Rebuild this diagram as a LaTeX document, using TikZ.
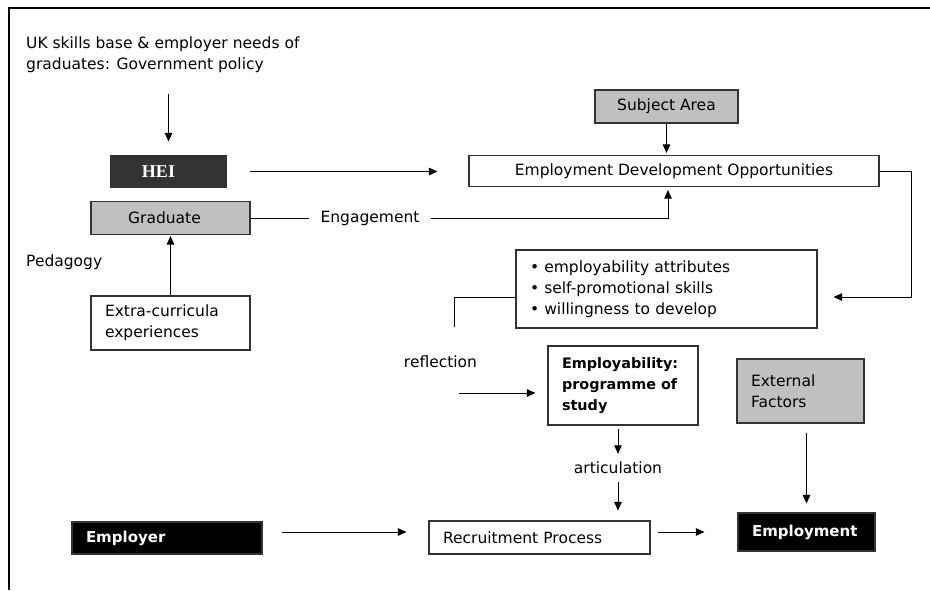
\documentclass[tikz,border=0pt]{standalone}
\usepackage{fontspec}
\setmainfont{DejaVu Sans}
\newfontfamily\heifont{Liberation Serif}
\usetikzlibrary{arrows.meta}
\definecolor{boxgray}{RGB}{192,192,192}
\definecolor{heigray}{RGB}{51,51,51}
\begin{document}
\begin{tikzpicture}[x=1pt,y=-1pt,
  font=\fontsize{15.5}{21}\selectfont,
  boldtext/.style={font=\fontsize{14.4}{21}\selectfont\bfseries},
  box/.style={draw=black!80, line width=1.1pt, inner sep=0pt},
  graybox/.style={box, fill=boxgray},
  blackbox/.style={box, fill=black, text=white, font=\fontsize{15}{21}\selectfont\bfseries},
  lbox/.style={align=left, inner xsep=14pt},
  lbl/.style={inner sep=0pt},
  arr/.style={-{Triangle[length=8.5pt,width=7.5pt]}, line width=0.9pt},
  ln/.style={line width=0.9pt}]
\useasboundingbox (0,0) rectangle (930,590);
\draw[line width=2.5pt] (9,590) -- (9,8) -- (930,8);

% nodes
\node[lbl, anchor=west, align=left] (policy) at (26,54.5) {UK skills base \& employer needs of\\graduates: Government policy};
\node[box, fill=heigray, text=white, minimum width=115pt, minimum height=31pt, font=\fontsize{18}{20}\selectfont\heifont\bfseries] (hei) at (168.5,171.5) {\hspace*{-20pt}HEI};
\node[graybox, minimum width=143pt, minimum height=33pt] (subj) at (666.5,106.5) {Subject Area};
\node[box, minimum width=410pt, minimum height=31pt] (edo) at (674,171) {Employment Development Opportunities};
\node[graybox, minimum width=159pt, minimum height=33pt] (grad) at (170.5,218) {\hspace*{-12pt}Graduate};
\node[lbl, inner xsep=11pt] (eng) at (370,218) {Engagement};
\node[lbl, anchor=west] (ped) at (26,262) {Pedagogy};
\node[box, lbox, minimum width=159pt, minimum height=54pt, text width=131pt] (extra) at (170.5,323) {Extra-curricula\\experiences};
\node[box, lbox, minimum width=301pt, minimum height=78pt, text width=273pt] (bul) at (666.5,289) {\textbullet\ employability attributes\\\textbullet\ self-promotional skills\\\textbullet\ willingness to develop};
\node[lbl] (refl) at (440.5,362) {reflection};
\node[box, lbox, boldtext, minimum width=150pt, minimum height=79pt, text width=122pt] (empl) at (623,385.5) {Employability:\\programme of\\study};
\node[graybox, lbox, minimum width=127pt, minimum height=64pt, text width=99pt] (ext) at (800.5,391) {External\\Factors};
\node[lbl] (art) at (618,468) {articulation};
\node[box, lbox, minimum width=221pt, minimum height=33pt, text width=193pt] (recr) at (539.5,537.5) {Recruitment Process};
\node[blackbox, lbox, minimum width=137pt, minimum height=38pt, text width=109pt] (job) at (806.5,532) {Employment};
\node[blackbox, lbox, minimum width=190pt, minimum height=32pt, text width=162pt] (emplr) at (167,538) {Employer};

\coordinate (bR) at ([xshift=16pt,yshift=-8pt]bul.east);
\coordinate (reflEnd) at (454,327);
\coordinate (reflIn) at (459,393);

% connectors
\draw[arr, shorten <=21pt, shorten >=14pt] (hei.north |- policy.south) -- (hei.north);
\draw[arr, shorten <=23pt, shorten >=31pt] (hei.east) -- (hei.east -| edo.west);
\draw[arr, shorten >=2pt] (subj.south) -- (subj.south |- edo.north);
\draw[ln] (grad.east) -- (eng.west);
\draw[arr, shorten >=3pt] (eng.east) -| ([xshift=-6pt]edo.south);
\draw[arr, shorten >=1pt] (extra.north) -- (grad.south);
\draw[arr] (edo.east) -- ++(32,0) |- (bR);
\draw[ln] ([yshift=-8pt]bul.west) -| (reflEnd);
\draw[arr, shorten >=12pt] (reflIn) -- (reflIn -| empl.west);
\draw[arr, shorten <=3pt, shorten >=8pt] (art.north |- empl.south) -- (art.north);
\draw[arr, shorten <=8pt, shorten >=10pt] (art.south) -- (art.south |- recr.north);
\draw[arr, shorten <=7pt, shorten >=33pt] (recr.east |- job.west) -- (job.west);
\draw[arr, shorten <=9pt, shorten >=9pt] ([xshift=6pt]ext.south) -- ([xshift=6pt]ext.south |- job.north);
\draw[arr, shorten <=19pt, shorten >=22pt] ([yshift=6pt]emplr.east) -- ([yshift=6pt]emplr.east -| recr.west);
\end{tikzpicture}
\end{document}
